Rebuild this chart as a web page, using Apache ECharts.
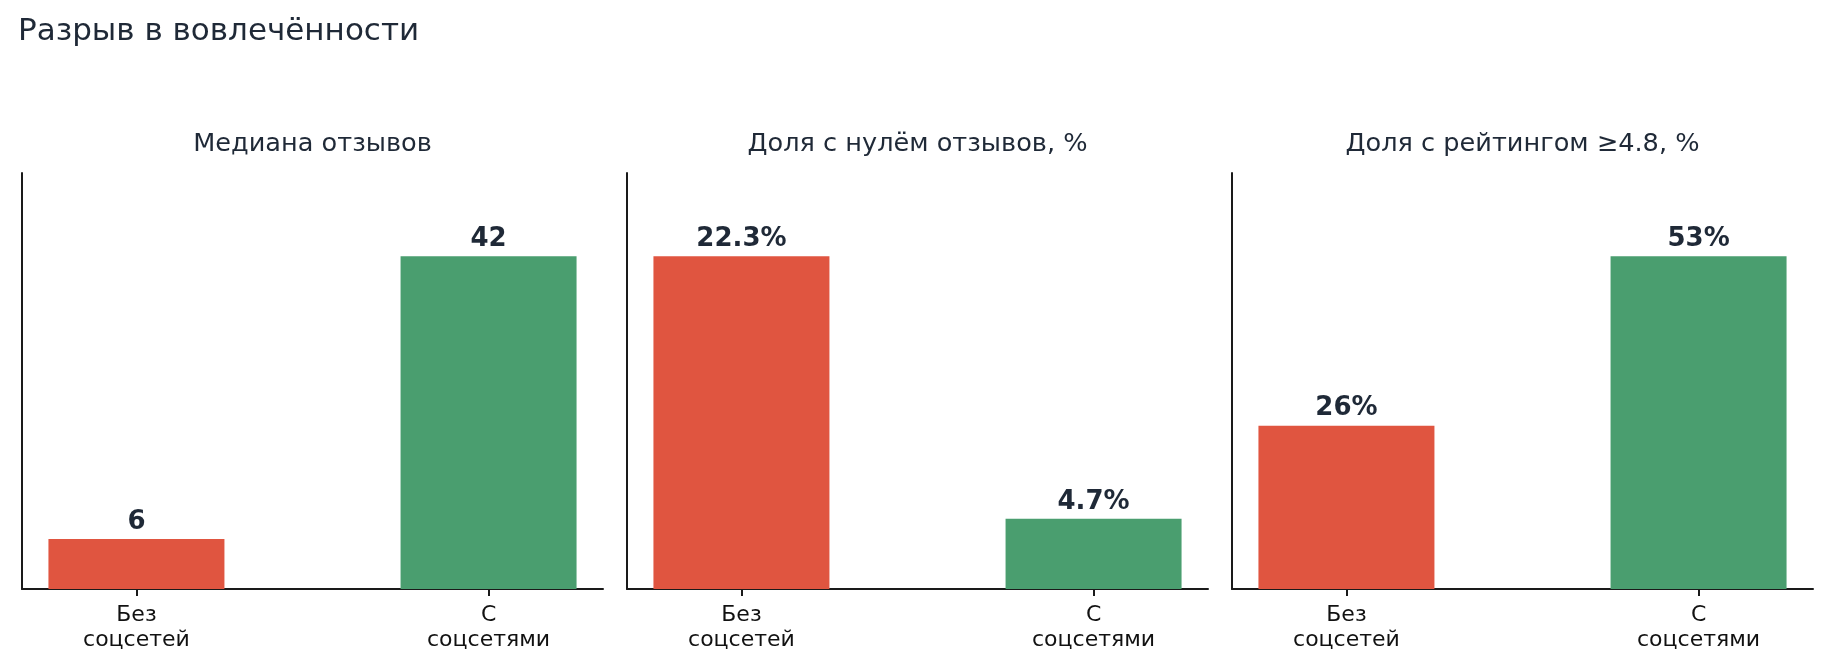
<!DOCTYPE html>
<html>
<head>
<meta charset="utf-8">
<script src="https://cdn.jsdelivr.net/npm/echarts@6/dist/echarts.min.js"></script>
<style>
  html, body { margin: 0; padding: 0; background: #fff; }
  #chart_view { width: 1829px; height: 664px; }
</style>
</head>
<body>
<div id="chart_view"></div>
<script>
// data
var categories = ['Без\nсоцсетей', 'С\nсоцсетями'];
var panelTitles = ['Медиана отзывов', 'Доля с нулём отзывов, %', 'Доля с рейтингом ≥4.8, %'];
var medianReviews = [6.3, 42];      // bar is drawn a bit above 6, label rounds it
var zeroReviewsShare = [22.3, 4.7];
var highRatingShare = [26, 53];
var valueSuffix = ['', '%', '%'];
var barColors = ['#E05540', '#4A9E6F'];

var panels = [medianReviews, zeroReviewsShare, highRatingShare];

// layout of the three small panels (pixels)
var gridLefts = [22, 627, 1232];
var gridWidth = 581;
var textColor = '#1F2937';
var font = 'DejaVu Sans';

var myChart = echarts.init(document.getElementById('chart_view'));

var titles = [{
    text: 'Разрыв в вовлечённости',
    left: 13,
    top: 11,
    textStyle: { fontFamily: font, fontSize: 31, fontWeight: 'normal', color: textColor }
}];
var grids = [], xAxes = [], yAxes = [], series = [];

panels.forEach(function (values, i) {
    titles.push({
        text: panelTitles[i],
        left: gridLefts[i] + gridWidth / 2 - 5,
        top: 126,
        textAlign: 'center',
        textStyle: { fontFamily: font, fontSize: 25.6, fontWeight: 'normal', color: textColor }
    });
    grids.push({ left: gridLefts[i], width: gridWidth, top: 173, bottom: 75 });
    xAxes.push({
        gridIndex: i,
        type: 'value',
        min: -0.325,
        max: 1.325,
        splitLine: { show: false },
        axisLine: { show: true, onZero: false, lineStyle: { color: '#1a1a1a', width: 2 } },
        axisTick: { show: true, length: 7, customValues: [0, 1], lineStyle: { color: '#1a1a1a', width: 2 } },
        axisLabel: {
            customValues: [0, 1],
            margin: 14,
            fontFamily: font,
            fontSize: 22,
            lineHeight: 25,
            color: '#111',
            formatter: function (v) { return categories[Math.round(v)]; }
        }
    });
    yAxes.push({
        gridIndex: i,
        type: 'value',
        min: 0,
        max: Math.max.apply(null, values) * 1.25,
        splitLine: { show: false },
        axisLabel: { show: false },
        axisTick: { show: false },
        axisLine: { show: true, onZero: false, lineStyle: { color: '#1a1a1a', width: 2 } }
    });
    series.push({
        type: 'bar',
        xAxisIndex: i,
        yAxisIndex: i,
        barWidth: 176,
        data: values.map(function (v, k) {
            return { value: [k, v], itemStyle: { color: barColors[k] } };
        }),
        label: {
            show: true,
            position: 'top',
            distance: 4,
            fontFamily: font,
            fontSize: 26,
            fontWeight: 'bold',
            color: textColor,
            formatter: function (p) {
                var v = p.value[1];
                return (i === 0 ? Math.round(v) : v) + valueSuffix[i];
            }
        }
    });
});

var option = {
    animation: false,
    backgroundColor: '#fff',
    title: titles,
    grid: grids,
    xAxis: xAxes,
    yAxis: yAxes,
    series: series
};

myChart.setOption(option);
</script>
</body>
</html>
